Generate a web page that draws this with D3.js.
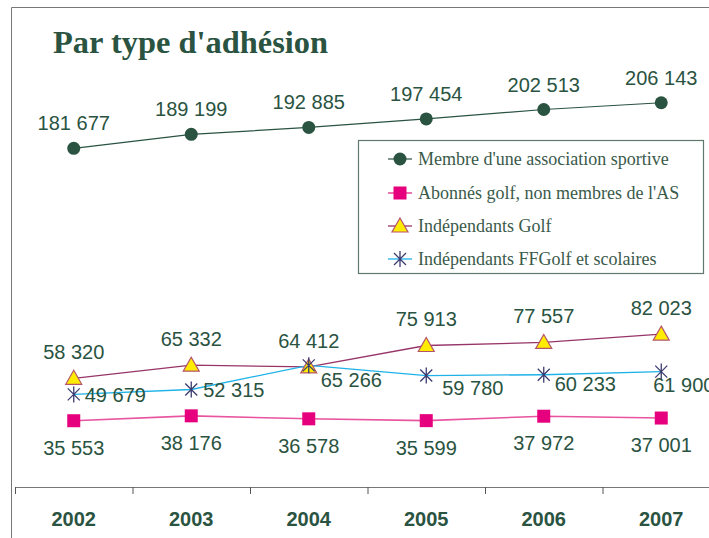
<!DOCTYPE html>
<html>
<head>
<meta charset="utf-8">
<script src="https://cdn.jsdelivr.net/npm/d3@7"></script>
<style>
  body { margin: 0; background: #fff; }
  svg { display: block; }
</style>
</head>
<body>
<div id="chart"></div>
<script>
const width = 709, height = 538;

// data
const years = ["2002", "2003", "2004", "2005", "2006", "2007"];
const membreAS = [181677, 189199, 192885, 197454, 202513, 206143];
const abonnes = [35553, 38176, 36578, 35599, 37972, 37001];
const indepGolf = [58320, 65332, 64412, 75913, 77557, 82023];
const indepFF = [49679, 52315, 65266, 59780, 60233, 61900];
const seriesNames = [
  "Membre d'une association sportive",
  "Abonnés golf, non membres de l'AS",
  "Indépendants Golf",
  "Indépendants FFGolf et scolaires"
];

const green = "#2a5341";
const fr = d3.formatLocale({ decimal: ",", thousands: " ", grouping: [3], currency: ["", " €"] });
const fmt = fr.format(",d");

const svg = d3.select("#chart").append("svg")
  .attr("width", width)
  .attr("height", height);

// outer frame (runs off the right and bottom edges)
svg.append("path")
  .attr("d", `M11.5,${height + 2} L11.5,7.5 L${width + 2},7.5`)
  .attr("fill", "none")
  .attr("stroke", "#777")
  .attr("stroke-width", 1);

svg.append("text")
  .attr("x", 53)
  .attr("y", 53)
  .attr("fill", green)
  .attr("font-family", "'Liberation Serif', 'DejaVu Serif', serif")
  .attr("font-weight", "bold")
  .attr("font-size", 31)
  .attr("textLength", 275)
  .attr("lengthAdjust", "spacingAndGlyphs")
  .text("Par type d'adhésion");

const x = d3.scaleBand().domain(years).range([15, 720]);
const y = d3.scaleLinear().domain([0, 250000]).range([487, 21]);
const cx = d => x(d) + x.bandwidth() / 2;

// x axis
const xAxis = svg.append("g")
  .attr("transform", "translate(0,487)")
  .call(d3.axisBottom(x).tickSize(0).tickPadding(25).tickSizeOuter(0));
xAxis.select(".domain").attr("stroke", "#777").attr("stroke-width", 1.2);
xAxis.selectAll(".tick text")
  .attr("fill", green)
  .attr("font-family", "'Liberation Sans', Arial, sans-serif")
  .attr("font-weight", "bold")
  .attr("font-size", 20);
// category separators
svg.append("g").selectAll("line")
  .data(years)
  .join("line")
  .attr("x1", d => x(d) + 0.5).attr("x2", d => x(d) + 0.5)
  .attr("y1", 487).attr("y2", 494)
  .attr("stroke", "#555");

const series = [
  { name: seriesNames[0], values: membreAS, line: green, lw: 1.2, marker: "circle", fill: green, stroke: green,
    label: () => ({ dx: 0, dy: -18, anchor: "middle" }) },
  { name: seriesNames[1], values: abonnes, line: "#e8549f", lw: 1.6, marker: "square", fill: "#e6007e", stroke: "#e6007e",
    label: () => ({ dx: 0, dy: 34, anchor: "middle" }) },
  { name: seriesNames[2], values: indepGolf, line: "#973468", lw: 1.3, marker: "triangle", fill: "#ffec00", stroke: "#b5556a",
    label: () => ({ dx: 0, dy: -19, anchor: "middle" }) },
  { name: seriesNames[3], values: indepFF, line: "#1eb2e8", lw: 1.3, marker: "star", fill: "none", stroke: "#3b3b70",
    // hand-placed labels in the original
    label: i => [[11, 8], [12, 8], [12, 22], [16, 19], [11, 16], [-8, 20]].map(p => ({ dx: p[0], dy: p[1], anchor: "start" }))[i] }
];

function drawMarker(g, type, fill, stroke) {
  if (type === "circle") {
    g.append("circle").attr("r", 6.5).attr("fill", fill);
  } else if (type === "square") {
    g.append("rect").attr("x", -6.5).attr("y", -6.5).attr("width", 13).attr("height", 13).attr("fill", fill);
  } else if (type === "triangle") {
    g.append("path").attr("d", "M0,-8 L8,6 L-8,6 Z").attr("fill", fill).attr("stroke", stroke).attr("stroke-width", 1.2);
  } else {
    g.append("path").attr("d", "M-6,-6 L6,6 M-6,6 L6,-6 M0,-8 L0,8")
      .attr("fill", "none").attr("stroke", stroke).attr("stroke-width", 1.3);
  }
}

const line = d3.line().x((d, i) => cx(years[i])).y(d => y(d));

series.forEach(s => {
  svg.append("path")
    .datum(s.values)
    .attr("d", line)
    .attr("fill", "none")
    .attr("stroke", s.line)
    .attr("stroke-width", s.lw);
});

series.forEach(s => {
  s.values.forEach((v, i) => {
    const g = svg.append("g").attr("transform", `translate(${cx(years[i])},${y(v)})`);
    drawMarker(g, s.marker, s.fill, s.stroke);
  });
});

series.forEach(s => {
  svg.append("g").selectAll("text")
    .data(s.values)
    .join("text")
    .each(function (v, i) {
      const l = s.label(i);
      d3.select(this)
        .attr("x", cx(years[i]) + l.dx)
        .attr("y", y(v) + l.dy)
        .attr("text-anchor", l.anchor);
    })
    .attr("fill", green)
    .attr("font-family", "'Liberation Sans', Arial, sans-serif")
    .attr("font-size", 20)
    .text(d => fmt(d));
});

// legend
const legend = svg.append("g");
legend.append("rect")
  .attr("x", 358.5).attr("y", 140.5)
  .attr("width", 345).attr("height", 133)
  .attr("fill", "#fff")
  .attr("stroke", "#5e7a6c")
  .attr("stroke-width", 1.2);
const legY = [159, 193, 226, 259];
series.forEach((s, i) => {
  const g = legend.append("g").attr("transform", `translate(0,${legY[i]})`);
  g.append("line").attr("x1", 388).attr("x2", 412).attr("stroke", s.line).attr("stroke-width", s.lw);
  drawMarker(g.append("g").attr("transform", "translate(400,0)"), s.marker, s.fill, s.stroke);
  g.append("text")
    .attr("x", 418).attr("y", 5.5)
    .attr("fill", "#3a5a4a")
    .attr("font-family", "'Liberation Serif', 'DejaVu Serif', serif")
    .attr("font-size", 18)
    .text(s.name);
});
</script>
</body>
</html>
